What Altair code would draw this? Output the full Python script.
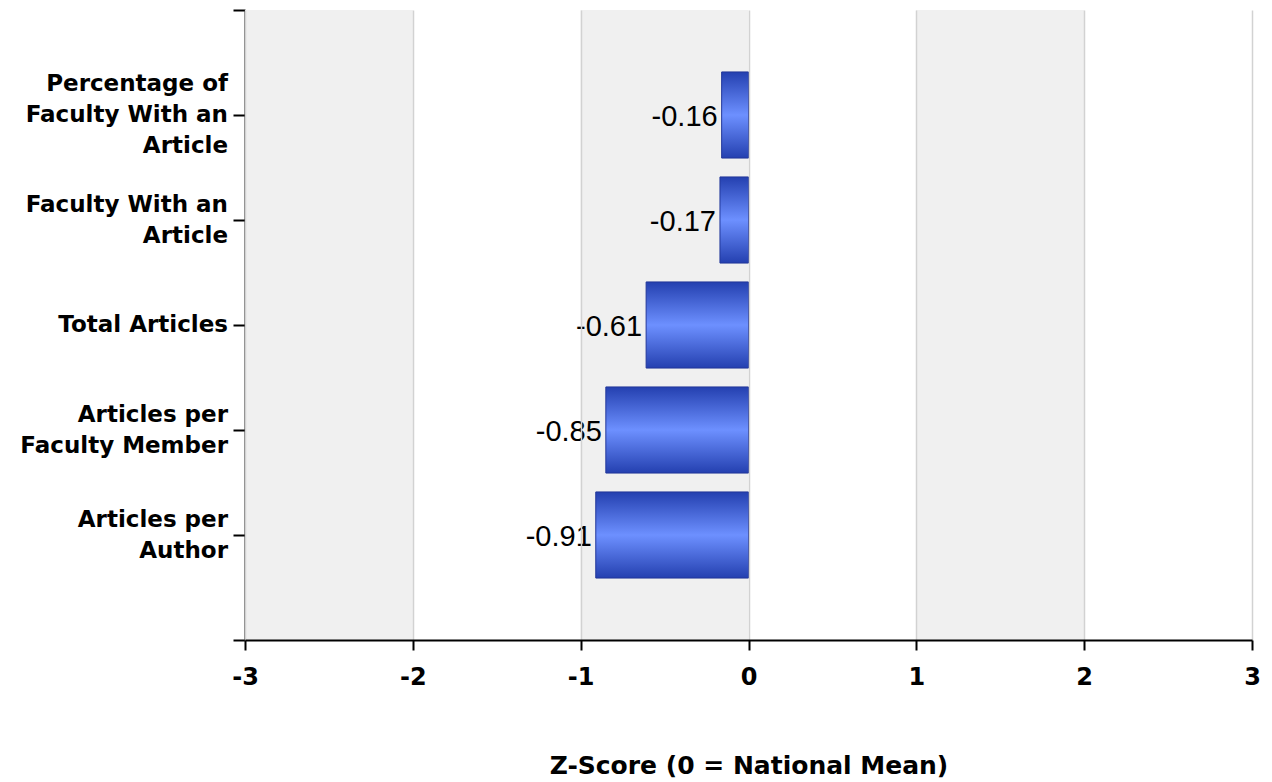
import altair as alt
import pandas as pd

categories = [
    "Percentage of|Faculty With an|Article",
    "Faculty With an|Article",
    "Total Articles",
    "Articles per|Faculty Member",
    "Articles per|Author",
]
values = [-0.16, -0.17, -0.61, -0.85, -0.91]
value_labels = ["-0.16", "-0.17", "-0.61", "-0.85", "-0.91"]
x_ticks = [-3, -2, -1, 0, 1, 2, 3]
band_starts = [-3, -1, 1]
band_ends = [-2, 0, 2]

df = pd.DataFrame({"category": categories, "value": values, "label": value_labels})
bands = pd.DataFrame({"start": band_starts, "end": band_ends})

xscale = alt.Scale(domain=[-3, 3], nice=False)
yscale = alt.Scale(domain=[0, 6], reverse=True, nice=False, zero=False)

font = "DejaVu Sans"

band_layer = alt.Chart(bands).mark_rect(color="#f0f0f0").encode(
    x=alt.X("start:Q", scale=xscale,
            axis=alt.Axis(values=x_ticks, title="Z-Score (0 = National Mean)",
                          labelExpr="'' + datum.value", labelFlush=False,
                          grid=True, gridColor="#d2d2d2", gridWidth=1.5,
                          domainColor="black", domainWidth=2,
                          tickColor="black", tickWidth=2, tickSize=10,
                          labelFont=font, labelFontWeight="bold", labelFontSize=24,
                          labelColor="black", labelPadding=15,
                          titleFont=font, titleFontWeight="bold", titleFontSize=25,
                          titleColor="black", titlePadding=64, zindex=1)),
    x2="end:Q",
    y=alt.value(0),
    y2=alt.value(630),
)

base = alt.Chart(df).transform_window(
    pos="row_number()"
).transform_calculate(
    y0="datum.pos - 0.41", y1="datum.pos + 0.41", zero="0",
    ly="datum.pos - (length(split(datum.category, '|')) - 1) * 0.1476",
)

bars = base.mark_rect(
    color=alt.Gradient(
        gradient="linear",
        stops=[
            alt.GradientStop(color="#2440b0", offset=0),
            alt.GradientStop(color="#6d90ff", offset=0.5),
            alt.GradientStop(color="#2440b0", offset=1),
        ],
        x1=0, x2=0, y1=0, y2=1,
    ),
    stroke="#22379a", strokeWidth=1,
).encode(
    x=alt.X("value:Q", scale=xscale),
    x2="zero:Q",
    y=alt.Y("y0:Q", scale=yscale,
            axis=alt.Axis(values=[0, 1, 2, 3, 4, 5, 6], title=None, grid=False,
                          labels=False,
                          domainColor="black", domainWidth=2,
                          tickColor="black", tickWidth=2, tickSize=12)),
    y2="y1:Q",
)

cat_labels = base.mark_text(
    align="right", baseline="middle", font=font, fontWeight="bold",
    fontSize=23, lineHeight=31, lineBreak="|", color="black",
).encode(
    x=alt.value(-17),
    y=alt.Y("ly:Q", scale=yscale),
    text="category:N",
)

texts = base.mark_text(
    align="right", baseline="middle", dx=-4, dy=2, font="Liberation Sans",
    fontSize=29, color="black",
).encode(
    x=alt.X("value:Q", scale=xscale),
    y=alt.Y("pos:Q", scale=yscale),
    text="label:N",
)

chart = alt.layer(band_layer, bars, cat_labels, texts).properties(
    width=1007, height=630,
    padding={"left": 237, "top": 2, "right": 12, "bottom": 140},
    autosize=alt.AutoSizeParams(type="none"),
).configure_view(stroke=None)

chart.save("out.html", embed_options={"renderer": "svg", "actions": False})
